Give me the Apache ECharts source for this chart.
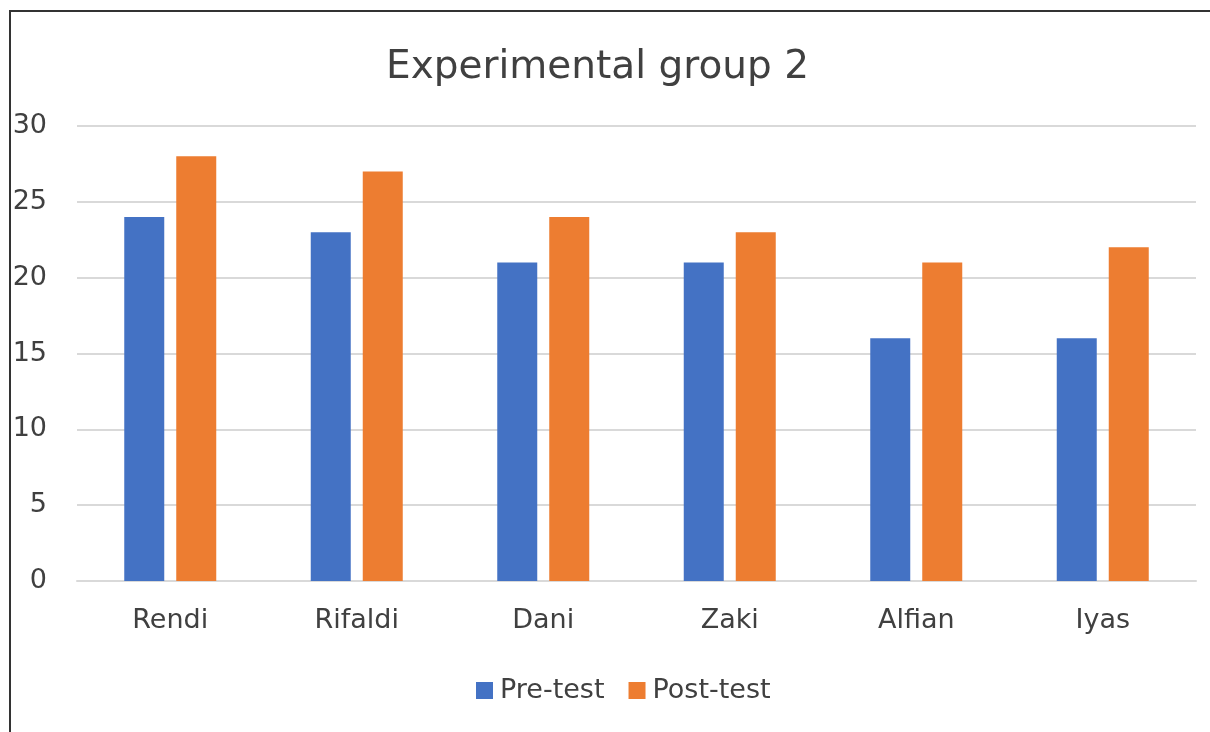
<!DOCTYPE html>
<html>
<head>
<meta charset="utf-8">
<script src="https://cdn.jsdelivr.net/npm/echarts@6/dist/echarts.min.js"></script>
<style>
  html, body { margin: 0; padding: 0; background: #fff; }
  #chart { width: 1210px; height: 732px; }
</style>
</head>
<body>
<div id="chart"></div>
<script>
const students = ['Rendi', 'Rifaldi', 'Dani', 'Zaki', 'Alfian', 'Iyas'];
const preTest = [24, 23, 21, 21, 16, 16];
const postTest = [28, 27, 24, 23, 21, 22];

const chart = echarts.init(document.getElementById('chart'));
const font = 'Tahoma, "DejaVu Sans", sans-serif';

const option = {
  animation: false,
  textStyle: { fontFamily: font },
  title: {
    text: 'Experimental group 2',
    left: 381,
    top: 43,
    textStyle: { fontSize: 39, fontWeight: 'normal', color: '#404040', fontFamily: font }
  },
  // frame lines along top and left edge
  graphic: [
    { type: 'line', shape: { x1: 9, y1: 11, x2: 1210, y2: 11 }, style: { stroke: '#333', lineWidth: 2 } },
    { type: 'line', shape: { x1: 10, y1: 11, x2: 10, y2: 732 }, style: { stroke: '#333', lineWidth: 2 } }
  ],
  legend: {
    top: 672,
    left: 471,
    itemWidth: 17,
    itemHeight: 17,
    itemGap: 24,
    icon: 'rect',
    textStyle: { fontSize: 27, color: '#404040', fontFamily: font, padding: [0, 0, 0, 2] },
    data: ['Pre-test', 'Post-test']
  },
  grid: { left: 77, right: 14, top: 126, bottom: 151, containLabel: false },
  xAxis: {
    type: 'category',
    data: students,
    axisLine: { lineStyle: { color: '#d9d9d9', width: 2 } },
    axisTick: { show: false },
    axisLabel: { fontSize: 27, color: '#404040', margin: 26, fontFamily: font }
  },
  yAxis: {
    type: 'value',
    min: 0,
    max: 30,
    interval: 5,
    axisLine: { show: false },
    axisTick: { show: false },
    splitLine: { lineStyle: { color: '#d9d9d9', width: 2 } },
    axisLabel: { fontSize: 27, color: '#404040', margin: 30, fontFamily: font }
  },
  series: [
    {
      name: 'Pre-test',
      type: 'bar',
      data: preTest,
      barWidth: 40,
      barGap: '30%',
      itemStyle: { color: '#4472c4' }
    },
    {
      name: 'Post-test',
      type: 'bar',
      data: postTest,
      barWidth: 40,
      itemStyle: { color: '#ed7d31' }
    }
  ]
};

chart.setOption(option);
</script>
</body>
</html>
